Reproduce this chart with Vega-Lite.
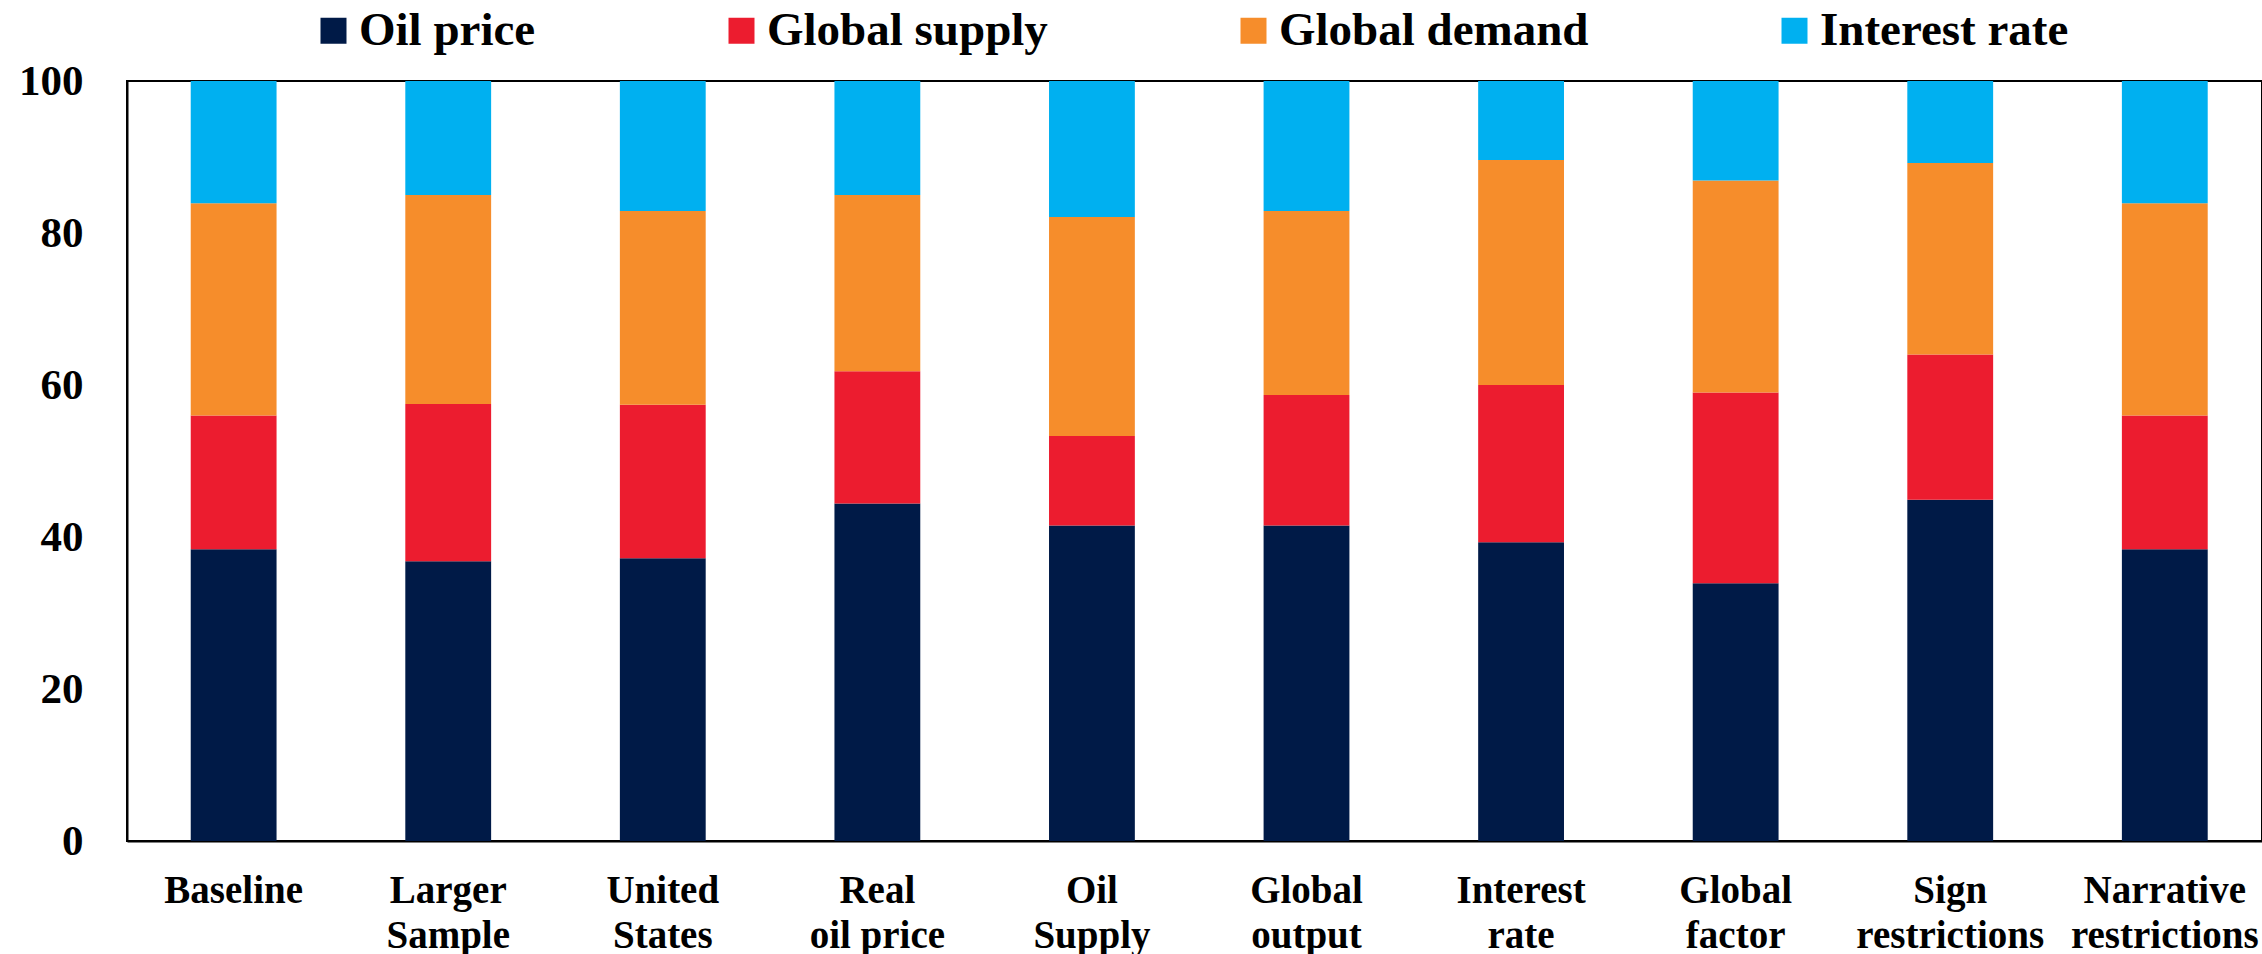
{
  "$schema": "https://vega.github.io/schema/vega-lite/v6.json",
  "width": 2135,
  "height": 760,
  "autosize": {"type": "none"},
  "padding": {"left": 127, "top": 81, "right": 0, "bottom": 113},
  "background": "white",
  "config": {"view": {"stroke": "black", "strokeWidth": 2}, "font": "Liberation Serif"},
  "data": {"values": [
    {"scenario": "Baseline", "component": "Oil price", "rank": 1, "share": 38.4},
    {"scenario": "Baseline", "component": "Global supply", "rank": 2, "share": 17.6},
    {"scenario": "Baseline", "component": "Global demand", "rank": 3, "share": 27.9},
    {"scenario": "Baseline", "component": "Interest rate", "rank": 4, "share": 16.1},
    {"scenario": "Larger Sample", "component": "Oil price", "rank": 1, "share": 36.8},
    {"scenario": "Larger Sample", "component": "Global supply", "rank": 2, "share": 20.7},
    {"scenario": "Larger Sample", "component": "Global demand", "rank": 3, "share": 27.5},
    {"scenario": "Larger Sample", "component": "Interest rate", "rank": 4, "share": 15.0},
    {"scenario": "United States", "component": "Oil price", "rank": 1, "share": 37.2},
    {"scenario": "United States", "component": "Global supply", "rank": 2, "share": 20.2},
    {"scenario": "United States", "component": "Global demand", "rank": 3, "share": 25.5},
    {"scenario": "United States", "component": "Interest rate", "rank": 4, "share": 17.1},
    {"scenario": "Real oil price", "component": "Oil price", "rank": 1, "share": 44.4},
    {"scenario": "Real oil price", "component": "Global supply", "rank": 2, "share": 17.4},
    {"scenario": "Real oil price", "component": "Global demand", "rank": 3, "share": 23.2},
    {"scenario": "Real oil price", "component": "Interest rate", "rank": 4, "share": 15.0},
    {"scenario": "Oil Supply", "component": "Oil price", "rank": 1, "share": 41.5},
    {"scenario": "Oil Supply", "component": "Global supply", "rank": 2, "share": 11.8},
    {"scenario": "Oil Supply", "component": "Global demand", "rank": 3, "share": 28.8},
    {"scenario": "Oil Supply", "component": "Interest rate", "rank": 4, "share": 17.9},
    {"scenario": "Global output", "component": "Oil price", "rank": 1, "share": 41.5},
    {"scenario": "Global output", "component": "Global supply", "rank": 2, "share": 17.2},
    {"scenario": "Global output", "component": "Global demand", "rank": 3, "share": 24.2},
    {"scenario": "Global output", "component": "Interest rate", "rank": 4, "share": 17.1},
    {"scenario": "Interest rate", "component": "Oil price", "rank": 1, "share": 39.3},
    {"scenario": "Interest rate", "component": "Global supply", "rank": 2, "share": 20.7},
    {"scenario": "Interest rate", "component": "Global demand", "rank": 3, "share": 29.6},
    {"scenario": "Interest rate", "component": "Interest rate", "rank": 4, "share": 10.4},
    {"scenario": "Global factor", "component": "Oil price", "rank": 1, "share": 33.9},
    {"scenario": "Global factor", "component": "Global supply", "rank": 2, "share": 25.1},
    {"scenario": "Global factor", "component": "Global demand", "rank": 3, "share": 27.9},
    {"scenario": "Global factor", "component": "Interest rate", "rank": 4, "share": 13.1},
    {"scenario": "Sign restrictions", "component": "Oil price", "rank": 1, "share": 44.9},
    {"scenario": "Sign restrictions", "component": "Global supply", "rank": 2, "share": 19.1},
    {"scenario": "Sign restrictions", "component": "Global demand", "rank": 3, "share": 25.2},
    {"scenario": "Sign restrictions", "component": "Interest rate", "rank": 4, "share": 10.8},
    {"scenario": "Narrative restrictions", "component": "Oil price", "rank": 1, "share": 38.4},
    {"scenario": "Narrative restrictions", "component": "Global supply", "rank": 2, "share": 17.6},
    {"scenario": "Narrative restrictions", "component": "Global demand", "rank": 3, "share": 27.9},
    {"scenario": "Narrative restrictions", "component": "Interest rate", "rank": 4, "share": 16.1}
  ]},
  "mark": {"type": "bar"},
  "encoding": {
    "x": {
      "field": "scenario", "type": "nominal", "sort": null,
      "scale": {"paddingInner": 0.6, "paddingOuter": 0.275, "align": 0.54},
      "axis": {
        "title": null, "labelAngle": 0, "ticks": false, "tickSize": 0,
        "domainColor": "black", "domainWidth": 2,
        "labelFont": "Liberation Serif", "labelFontWeight": "bold", "labelFontSize": 39,
        "labelColor": "black", "labelPadding": 30, "labelBaseline": "top", "labelLineHeight": 45,
        "labelLimit": 500, "labelOverlap": false,
        "labelExpr": "indexof(datum.label, ' ') > 0 ? [slice(datum.label, 0, indexof(datum.label, ' ')), slice(datum.label, indexof(datum.label, ' ') + 1)] : datum.label"
      }
    },
    "y": {
      "field": "share", "type": "quantitative", "stack": "zero",
      "scale": {"domain": [0, 100], "nice": false},
      "axis": {
        "title": null, "values": [0, 20, 40, 60, 80, 100], "ticks": false, "tickSize": 0, "grid": false,
        "domainColor": "black", "domainWidth": 2,
        "labelFont": "Liberation Serif", "labelFontWeight": "bold", "labelFontSize": 43,
        "labelColor": "black", "labelPadding": 44
      }
    },
    "color": {
      "field": "component", "type": "nominal",
      "scale": {
        "domain": ["Oil price", "Global supply", "Global demand", "Interest rate"],
        "range": ["#001A47", "#EC1C2F", "#F68D2B", "#00B0F0"]
      },
      "legend": {
        "orient": "none", "legendX": 183, "legendY": -74, "direction": "horizontal", "columns": 4,
        "title": null, "symbolType": "square", "symbolSize": 676, "symbolStrokeWidth": 0,
        "labelFont": "Liberation Serif", "labelFontWeight": "bold", "labelFontSize": 47,
        "labelColor": "black", "labelOffset": 2, "columnPadding": 182, "padding": 0, "labelLimit": 600
      }
    },
    "order": {"field": "rank", "type": "quantitative"}
  }
}
